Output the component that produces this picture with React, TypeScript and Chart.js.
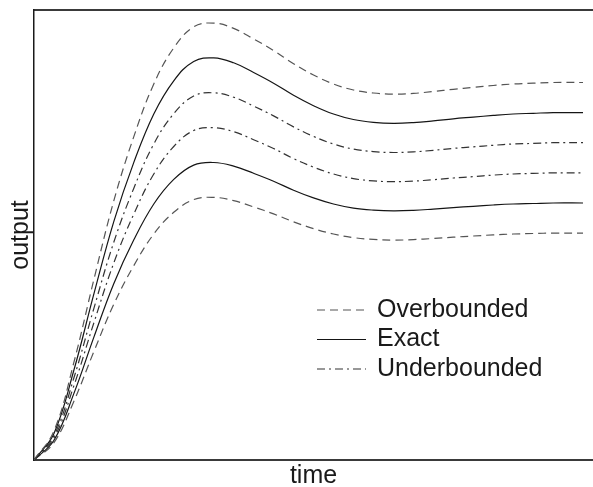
import React, { useEffect, useRef } from "react";
import { Chart, registerables } from "chart.js";

Chart.register(...registerables);

// time samples (arbitrary units)
const time = [0, 2, 4, 6, 8, 10, 12, 14, 16, 18, 20, 22, 24, 26, 28, 30, 32, 34, 36, 38, 40, 42, 44, 46, 48, 50, 52, 55];

const overUpper = [0, 0.290, 0.978, 1.805, 2.594, 3.234, 3.760, 4.121, 4.332, 4.369, 4.316, 4.211, 4.095, 3.963, 3.850, 3.760, 3.700, 3.670, 3.658, 3.666, 3.685, 3.707, 3.726, 3.745, 3.760, 3.768, 3.775, 3.775];
const exactUpper = [0, 0.266, 0.900, 1.661, 2.387, 2.976, 3.460, 3.792, 3.986, 4.021, 3.972, 3.875, 3.768, 3.647, 3.543, 3.460, 3.405, 3.377, 3.367, 3.374, 3.391, 3.412, 3.429, 3.446, 3.460, 3.467, 3.474, 3.474];
const underUpper = [0, 0.243, 0.822, 1.517, 2.180, 2.718, 3.160, 3.463, 3.640, 3.672, 3.628, 3.539, 3.441, 3.331, 3.236, 3.160, 3.109, 3.084, 3.075, 3.081, 3.097, 3.116, 3.132, 3.147, 3.160, 3.166, 3.173, 3.173];
const underLower = [0, 0.220, 0.744, 1.373, 1.973, 2.460, 2.860, 3.135, 3.295, 3.323, 3.283, 3.203, 3.115, 3.014, 2.929, 2.860, 2.814, 2.791, 2.783, 2.789, 2.803, 2.820, 2.834, 2.849, 2.860, 2.866, 2.871, 2.871];
const exactLower = [0, 0.197, 0.666, 1.229, 1.766, 2.202, 2.560, 2.806, 2.949, 2.975, 2.939, 2.867, 2.788, 2.698, 2.621, 2.560, 2.519, 2.499, 2.491, 2.496, 2.509, 2.524, 2.537, 2.550, 2.560, 2.565, 2.570, 2.570];
const overLower = [0, 0.174, 0.588, 1.085, 1.559, 1.944, 2.260, 2.477, 2.604, 2.626, 2.594, 2.531, 2.461, 2.382, 2.314, 2.260, 2.224, 2.206, 2.199, 2.204, 2.215, 2.228, 2.240, 2.251, 2.260, 2.265, 2.269, 2.269];

const legendLabels = ["Overbounded", "Exact", "Underbounded"];
const xTitle = "time";
const yTitle = "output";

const FONT = "'Liberation Sans', Arial, sans-serif";

const styles = [
  { color: "#555", dash: [8, 5], width: 1.2 },
  { color: "#151515", dash: [], width: 1.2 },
  { color: "#333", dash: [8, 4, 2, 4], width: 1.2 },
];

const legendPlugin = {
  id: "insideLegend",
  afterDraw(chart: any) {
    const { ctx, chartArea } = chart;
    ctx.save();
    legendLabels.forEach((label, i) => {
      const s = styles[i];
      const y = chartArea.top + 300 + i * 29.5;
      const x0 = chartArea.left + 283;
      ctx.beginPath();
      ctx.strokeStyle = s.color;
      ctx.lineWidth = s.width;
      ctx.setLineDash(s.dash);
      ctx.moveTo(x0, y);
      ctx.lineTo(x0 + 49, y);
      ctx.stroke();
      ctx.setLineDash([]);
      ctx.fillStyle = "#1a1a1a";
      ctx.font = `25px ${FONT}`;
      ctx.textBaseline = "middle";
      ctx.textAlign = "left";
      ctx.fillText(label, x0 + 60, y);
    });
    ctx.restore();
  },
};

export default function App() {
  const ref = useRef<HTMLCanvasElement | null>(null);

  useEffect(() => {
    if (!ref.current) return;
    const mk = (vals: number[], styleIdx: number) => ({
      data: time.map((t, i) => ({ x: t, y: vals[i] })),
      borderColor: styles[styleIdx].color,
      borderDash: styles[styleIdx].dash,
      borderWidth: styles[styleIdx].width,
      pointRadius: 0,
      fill: false,
      tension: 0.4,
    });
    const chart = new Chart(ref.current, {
      type: "line",
      data: {
        datasets: [
          mk(overUpper, 0),
          mk(exactUpper, 1),
          mk(underUpper, 2),
          mk(underLower, 2),
          mk(exactLower, 1),
          mk(overLower, 0),
        ],
      },
      options: {
        animation: false,
        responsive: false,
        layout: { padding: { left: 0, top: 10, right: 0, bottom: 0 } },
        plugins: { legend: { display: false }, tooltip: { enabled: false } },
        scales: {
          x: {
            type: "linear",
            position: "bottom",
            min: 0,
            max: 56,
            ticks: { display: false },
            grid: { display: false, drawTicks: false },
            border: { display: true, color: "#3a3a3a", width: 2 },
            title: {
              display: true,
              text: xTitle,
              color: "#1a1a1a",
              font: { family: FONT, size: 25, lineHeight: 0.9 },
              padding: { top: 4.5, bottom: 0 },
            },
          },
          x2: {
            type: "linear",
            position: "top",
            min: 0,
            max: 56,
            ticks: { display: false },
            grid: { display: false, drawTicks: false },
            border: { display: true, color: "#3a3a3a", width: 2 },
          },
          y: {
            type: "linear",
            min: 0,
            max: 4.5,
            ticks: { display: false },
            grid: { display: false, drawTicks: false },
            border: { display: true, color: "#1a1a1a", width: 1.5 },
            title: {
              display: true,
              text: yTitle,
              color: "#1a1a1a",
              font: { family: FONT, size: 25, lineHeight: 0.9 },
              padding: { top: 10, bottom: 1.5 },
            },
          },
        },
      },
      plugins: [legendPlugin],
    });
    return () => chart.destroy();
  }, []);

  return (
    <div style={{ position: "fixed", left: 0, top: 0, width: 593, height: 487, background: "#fff" }}>
      <canvas ref={ref} width={593} height={487} />
    </div>
  );
}
